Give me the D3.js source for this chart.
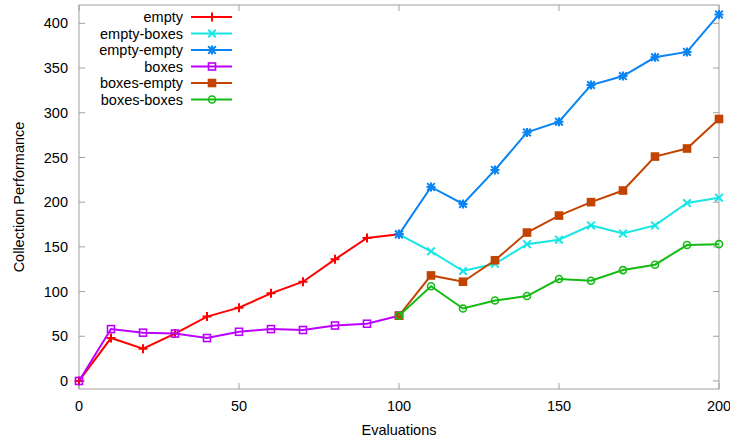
<!DOCTYPE html>
<html>
<head>
<meta charset="utf-8">
<script src="https://cdn.jsdelivr.net/npm/d3@7"></script>
<style>
  body { margin: 0; background: #fff; }
  text { font-family: "Liberation Sans", Arial, sans-serif; }
</style>
</head>
<body>
<div id="chart"></div>
<script>
// data
var xEarly = [0, 10, 20, 30, 40, 50, 60, 70, 80, 90, 100];
var xLate = [100, 110, 120, 130, 140, 150, 160, 170, 180, 190, 200];

var emptyVals      = [0, 48, 36, 53, 72, 82, 98, 111, 136, 160, 164];
var boxesVals      = [0, 58, 54, 53, 48, 55, 58, 57, 62, 64, 73];
var emptyBoxesVals = [164, 145, 123, 131, 153, 158, 174, 165, 174, 199, 205];
var emptyEmptyVals = [164, 217, 198, 236, 278, 290, 331, 341, 362, 368, 410];
var boxesEmptyVals = [73, 118, 111, 135, 166, 185, 200, 213, 251, 260, 293];
var boxesBoxesVals = [73, 106, 81, 90, 95, 114, 112, 124, 130, 152, 153];

var xTicks = [0, 50, 100, 150, 200];
var yTicks = [0, 50, 100, 150, 200, 250, 300, 350, 400];

var series = [
    {name: "empty",       xs: xEarly, ys: emptyVals,      color: "#ff0000", marker: "plus"},
    {name: "empty-boxes", xs: xLate,  ys: emptyBoxesVals, color: "#16e6e6", marker: "cross"},
    {name: "empty-empty", xs: xLate,  ys: emptyEmptyVals, color: "#0a84f2", marker: "star"},
    {name: "boxes",       xs: xEarly, ys: boxesVals,      color: "#bb00ff", marker: "box"},
    {name: "boxes-empty", xs: xLate,  ys: boxesEmptyVals, color: "#c24400", marker: "fbox"},
    {name: "boxes-boxes", xs: xLate,  ys: boxesBoxesVals, color: "#14bb14", marker: "circle"}
];

var W = 730, H = 438;
var margin = {top: 5, right: 11, bottom: 49, left: 79};
var width = W - margin.left - margin.right,
    height = H - margin.top - margin.bottom;
var fontSize = 14.5;

var svg = d3.select("#chart").append("svg")
    .attr("width", W)
    .attr("height", H);

var g = svg.append("g")
    .attr("transform", "translate(" + margin.left + "," + margin.top + ")");

var x = d3.scaleLinear().domain([0, 200]).range([0, width]);
var y = d3.scaleLinear().domain([-9, 420.5]).range([height, 0]);

var borderColor = "#a0a0a0";

// frame
g.append("rect")
    .attr("width", width)
    .attr("height", height)
    .attr("fill", "none")
    .attr("stroke", borderColor)
    .attr("stroke-width", 1);

// inward ticks on all four sides (gnuplot mirror style)
var tickLen = 6;
xTicks.forEach(function(t) {
    g.append("line").attr("x1", x(t)).attr("x2", x(t))
        .attr("y1", height).attr("y2", height - tickLen)
        .attr("stroke", borderColor);
    g.append("line").attr("x1", x(t)).attr("x2", x(t))
        .attr("y1", 0).attr("y2", tickLen)
        .attr("stroke", borderColor);
    g.append("text")
        .attr("x", x(t)).attr("y", height + 22)
        .attr("text-anchor", "middle")
        .attr("font-size", fontSize)
        .text(t);
});
yTicks.forEach(function(t) {
    g.append("line").attr("x1", 0).attr("x2", tickLen)
        .attr("y1", y(t)).attr("y2", y(t))
        .attr("stroke", borderColor);
    g.append("line").attr("x1", width).attr("x2", width - tickLen)
        .attr("y1", y(t)).attr("y2", y(t))
        .attr("stroke", borderColor);
    g.append("text")
        .attr("x", -11).attr("y", y(t))
        .attr("dy", "0.35em")
        .attr("text-anchor", "end")
        .attr("font-size", fontSize)
        .text(t);
});

// axis titles
svg.append("text")
    .attr("x", margin.left + width / 2)
    .attr("y", 435)
    .attr("text-anchor", "middle")
    .attr("font-size", fontSize)
    .text("Evaluations");

svg.append("text")
    .attr("transform", "translate(23.5," + (margin.top + height / 2) + ") rotate(-90)")
    .attr("text-anchor", "middle")
    .attr("font-size", fontSize)
    .text("Collection Performance");

// marker drawing
function drawMarker(sel, type, color) {
    var s = 4.5;
    if (type == "plus" || type == "star") {
        sel.append("path").attr("d", "M" + (-s) + ",0H" + s + "M0," + (-s) + "V" + s)
            .attr("stroke", color).attr("stroke-width", 2).attr("fill", "none");
    }
    if (type == "cross" || type == "star") {
        var c = 3.8;
        sel.append("path").attr("d", "M" + (-c) + "," + (-c) + "L" + c + "," + c + "M" + (-c) + "," + c + "L" + c + "," + (-c))
            .attr("stroke", color).attr("stroke-width", 2).attr("fill", "none");
    }
    if (type == "box" || type == "fbox") {
        sel.append("rect").attr("x", -3.5).attr("y", -3.5).attr("width", 7).attr("height", 7)
            .attr("stroke", color).attr("stroke-width", 1.6)
            .attr("fill", type == "fbox" ? color : "none");
    }
    if (type == "circle") {
        sel.append("circle").attr("r", 3.5)
            .attr("stroke", color).attr("stroke-width", 1.6).attr("fill", "none");
    }
}

var line = d3.line()
    .x(function(d) { return x(d[0]); })
    .y(function(d) { return y(d[1]); });

series.forEach(function(s) {
    var pts = s.xs.map(function(v, i) { return [v, s.ys[i]]; });
    g.append("path")
        .datum(pts)
        .attr("d", line)
        .attr("fill", "none")
        .attr("stroke", s.color)
        .attr("stroke-width", 2);
    pts.forEach(function(p) {
        var m = g.append("g").attr("transform", "translate(" + x(p[0]) + "," + y(p[1]) + ")");
        drawMarker(m, s.marker, s.color);
    });
});

// legend (top left, text right-aligned against the sample line)
var legend = svg.append("g");
series.forEach(function(s, i) {
    var ly = 17 + i * 16.5;
    legend.append("text")
        .attr("x", 183).attr("y", ly)
        .attr("dy", "0.35em")
        .attr("text-anchor", "end")
        .attr("font-size", fontSize)
        .text(s.name);
    legend.append("line")
        .attr("x1", 191).attr("x2", 232)
        .attr("y1", ly).attr("y2", ly)
        .attr("stroke", s.color).attr("stroke-width", 2);
    var m = legend.append("g").attr("transform", "translate(212," + ly + ")");
    drawMarker(m, s.marker, s.color);
});
</script>
</body>
</html>
